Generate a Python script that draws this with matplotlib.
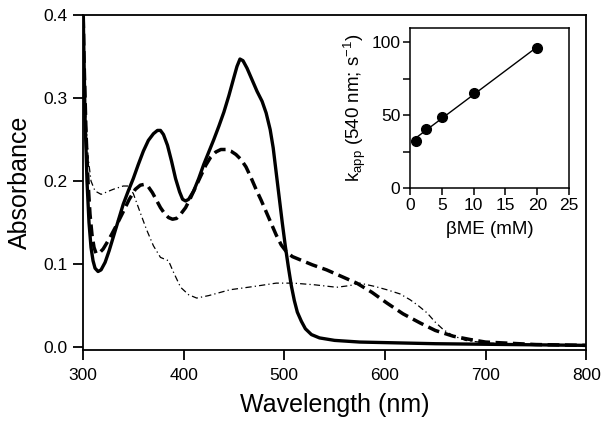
import matplotlib
matplotlib.use("Agg")
import matplotlib.pyplot as plt
from matplotlib.ticker import MultipleLocator

plt.rcParams["font.family"] = ["Liberation Sans", "DejaVu Sans"]
plt.rcParams["mathtext.fontset"] = "custom"
plt.rcParams["mathtext.rm"] = "Liberation Sans"
plt.rcParams["mathtext.it"] = "Liberation Sans"

# solid trace
wl_solid = [300, 301, 302, 304, 306, 308, 310, 312, 315, 318, 322, 326, 330, 335, 340,
            345, 350, 355, 360, 365, 370, 374, 377, 380, 384, 388, 392, 396, 399, 402,
            405, 410, 415, 420, 425, 430, 435, 440, 445, 450, 453, 456, 459, 463, 468,
            473, 478, 482, 486, 489, 492, 495, 498, 501, 504, 507, 510, 513, 517, 521,
            527, 535, 550, 575, 650, 800]
abs_solid = [0.42, 0.35, 0.28, 0.20, 0.15, 0.12, 0.104, 0.095, 0.091, 0.093, 0.102,
             0.116, 0.132, 0.152, 0.172, 0.188, 0.203, 0.220, 0.236, 0.249, 0.257,
             0.261, 0.261, 0.256, 0.243, 0.224, 0.203, 0.187, 0.178, 0.176, 0.178,
             0.188, 0.203, 0.220, 0.235, 0.250, 0.266, 0.283, 0.303, 0.325, 0.338,
             0.347, 0.345, 0.336, 0.322, 0.308, 0.296, 0.282, 0.262, 0.240, 0.210,
             0.180, 0.150, 0.122, 0.097, 0.074, 0.056, 0.042, 0.031, 0.022, 0.015,
             0.011, 0.008, 0.006, 0.004, 0.002]

# dashed trace
wl_dash = [300, 301, 303, 305, 307, 309, 311, 313, 316, 320, 326, 333, 340, 346, 352,
           357, 361, 365, 369, 373, 377, 381, 385, 389, 393, 397, 402, 407, 412, 417,
           422, 427, 432, 437, 442, 447, 452, 457, 462, 467, 472, 477, 482, 487, 492,
           497, 502, 508, 516, 528, 542, 557, 572, 587, 602, 618, 635, 650, 668, 685,
           700, 750, 800]
abs_dash = [0.42, 0.35, 0.26, 0.20, 0.16, 0.135, 0.12, 0.113, 0.113, 0.118, 0.130,
            0.146, 0.163, 0.178, 0.190, 0.195, 0.196, 0.193, 0.186, 0.177, 0.168,
            0.161, 0.156, 0.154, 0.155, 0.160, 0.168, 0.180, 0.193, 0.206, 0.219,
            0.229, 0.235, 0.238, 0.238, 0.236, 0.232, 0.226, 0.217, 0.204, 0.190,
            0.177, 0.163, 0.149, 0.135, 0.123, 0.115, 0.109, 0.105, 0.099, 0.093,
            0.085, 0.077, 0.066, 0.053, 0.040, 0.029, 0.020, 0.013, 0.009, 0.006,
            0.003, 0.002]

# dash-dot trace
wl_dd = [300, 302, 305, 308, 312, 318, 330, 340, 345, 350, 356, 363, 370, 377, 385, 390,
         397, 405, 413, 425, 446, 470, 492, 509, 530, 552, 565, 575, 590, 602, 615, 625,
         633, 642, 650, 658, 667, 680, 700, 750, 800]
abs_dd = [0.40, 0.30, 0.23, 0.20, 0.188, 0.184, 0.19, 0.194, 0.194, 0.185, 0.165, 0.142,
          0.122, 0.108, 0.104, 0.09, 0.072, 0.063, 0.059, 0.062, 0.069, 0.073, 0.077,
          0.077, 0.075, 0.072, 0.074, 0.077, 0.073, 0.069, 0.064, 0.057, 0.05, 0.041,
          0.03, 0.021, 0.014, 0.008, 0.005, 0.003, 0.002]

# inset: rate vs betaME
bme = [1, 2.5, 5, 10, 20]
kapp = [32.4, 40.5, 48.6, 65.3, 96.3]
fit_x = [1, 20]
fit_y = [34.6, 97.0]

fig = plt.figure(figsize=(6.1, 4.3), dpi=100)
ax = fig.add_axes([0.136, 0.186, 0.825, 0.779])

ax.plot(wl_dd, abs_dd, color="black", lw=0.9, dashes=(5, 2.5, 1, 2.5))
ax.plot(wl_dash, abs_dash, color="black", lw=2.5, dashes=(3.4, 1.6))
ax.plot(wl_solid, abs_solid, color="black", lw=2.4)

ax.set_xlim(300, 800)
ax.set_ylim(-0.0036, 0.4)
ax.set_xticks([300, 400, 500, 600, 700, 800])
ax.set_yticks([0.0, 0.1, 0.2, 0.3, 0.4])
ax.set_yticklabels(["0.0", "0.1", "0.2", "0.3", "0.4"])
ax.tick_params(direction="out", length=7, width=1.3, labelsize=12.5, pad=4)
ax.tick_params(axis="x", pad=6)
for s in ax.spines.values():
    s.set_linewidth(1.3)
ax.set_xlabel("Wavelength (nm)", fontsize=18, labelpad=7)
ax.set_ylabel("Absorbance", fontsize=18, labelpad=8)

ins = fig.add_axes([0.672, 0.563, 0.261, 0.372])
ins.plot(fit_x, fit_y, color="black", lw=1.0)
ins.plot(bme, kapp, "o", color="black", ms=7)
ins.set_xlim(0, 25)
ins.set_ylim(0, 110)
ins.set_xticks([0, 5, 10, 15, 20, 25])
ins.set_yticks([0, 50, 100])
ins.yaxis.set_minor_locator(MultipleLocator(25))
ins.tick_params(which="both", direction="out", length=5, width=1.1, labelsize=12.5, pad=2)
for s in ins.spines.values():
    s.set_linewidth(1.1)
ins.set_xlabel("βME (mM)", fontsize=13.5, labelpad=6)
ins.set_ylabel("k$_{\\mathrm{app}}$ (540 nm; s$^{\\mathrm{-1}}$)", fontsize=13.5, labelpad=2)

fig.savefig("out.png", dpi=100)
